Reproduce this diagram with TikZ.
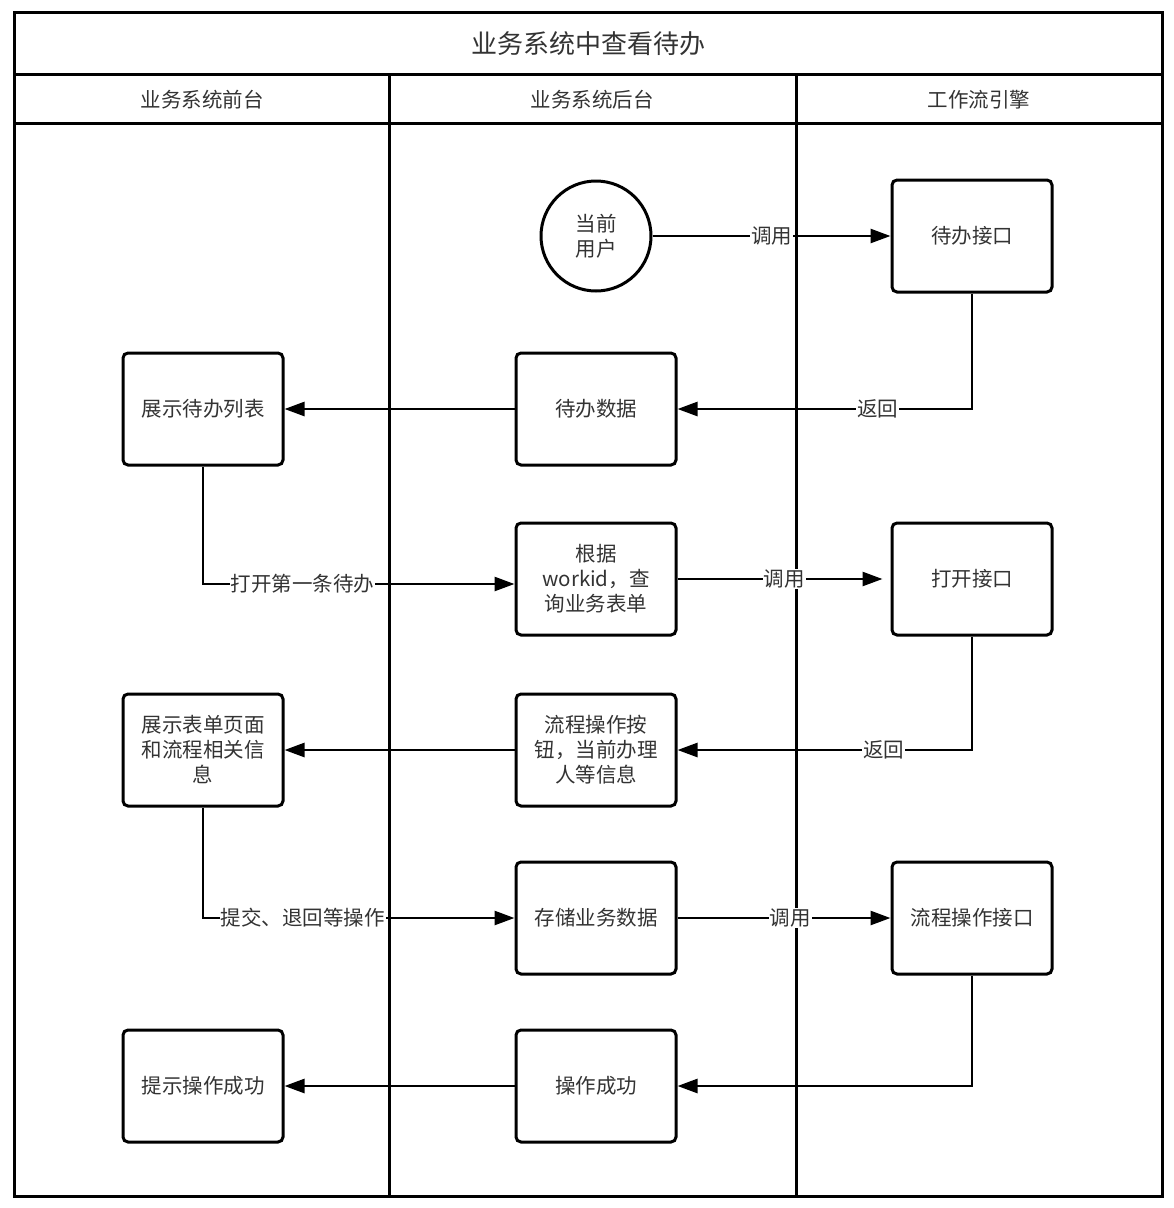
\documentclass[tikz,border=0pt]{standalone}
\usepackage{fontspec}
\setmainfont{Noto Sans CJK SC}
\usetikzlibrary{arrows.meta}
\definecolor{inkgray}{RGB}{51,51,51}

\begin{document}
\begin{tikzpicture}[x=1pt,y=-1pt,
  lane/.style={line width=3pt},
  task/.style={draw,line width=3pt,rounded corners=5pt,minimum width=160pt,
    minimum height=112pt,align=center,text=inkgray,
    font=\fontsize{20.5}{25}\selectfont},
  user/.style={draw,circle,line width=3pt,minimum size=110pt,align=center,
    text=inkgray,font=\fontsize{20.5}{25}\selectfont},
  flow/.style={line width=2.6pt,-{Triangle[length=20pt,width=14pt]}},
  tag/.style={fill=white,inner sep=1pt,text=inkgray,
    font=\fontsize{20.5}{25}\selectfont}]

\newcommand\xFront{203}
\newcommand\xBack{596}
\newcommand\xFlow{972}

\useasboundingbox (0,0) rectangle (1174,1208); %% margins

%% swim lanes
\draw[lane] (14,12) rectangle (1162,1196);
\draw[lane] (14,74) -- (1162,74);
\draw[lane] (14,123) -- (1162,123);
\draw[lane] (389,74) -- (389,1196);
\draw[lane] (796,74) -- (796,1196);

\node[text=inkgray,font=\fontsize{26}{30}\selectfont] (title) at (588,44) {业务系统中查看待办};
\node[text=inkgray,font=\fontsize{20.5}{25}\selectfont] (hFront) at (202,100) {业务系统前台};
\node[text=inkgray,font=\fontsize{20.5}{25}\selectfont] (hBack) at (592,100) {业务系统后台};
\node[text=inkgray,font=\fontsize{20.5}{25}\selectfont] (hFlow) at (979,100) {工作流引擎};

%% steps
\node[user] (curUser) at (\xBack,236) {当前\\用户};
\node[task] (todoApi) at (\xFlow,236) {待办接口};

\node[task] (todoList) at (\xFront,409) {展示待办列表};
\node[task] (todoData) at (\xBack,409) {待办数据};

\node[task] (queryForm) at (\xBack,579) {根据\\workid，查\\询业务表单};
\node[task] (openApi) at (\xFlow,579) {打开接口};

\node[task] (showForm) at (\xFront,750) {展示表单页面\\和流程相关信\\息};
\node[task] (opButtons) at (\xBack,750) {流程操作按\\钮，当前办理\\人等信息};

\node[task] (saveData) at (\xBack,918) {存储业务数据};
\node[task] (opApi) at (\xFlow,918) {流程操作接口};

\node[task] (showOk) at (\xFront,1086) {提示操作成功};
\node[task] (opOk) at (\xBack,1086) {操作成功};

%% connectors
\draw[flow] (curUser) -- node[tag]{调用} (todoApi);
\draw[flow] (todoApi.south) |- node[tag,pos=0.66]{返回} (todoData.east);
\draw[flow] (todoData) -- (todoList);

\draw[flow] (todoList.south) |- node[tag,pos=0.66]{打开第一条待办} ([yshift=-5pt]queryForm.west);
\draw[flow,shorten >=8pt] (queryForm) -- node[tag]{调用} (openApi);
\draw[flow] (openApi.south) |- node[tag,pos=0.65]{返回} (opButtons.east);
\draw[flow] (opButtons) -- (showForm);

\draw[flow] (showForm.south) |- node[tag,pos=0.66]{提交、退回等操作} (saveData.west);
\draw[flow] (saveData) -- node[tag,pos=0.53]{调用} (opApi);
\draw[flow] (opApi.south) |- (opOk.east);
\draw[flow] (opOk) -- (showOk);

\end{tikzpicture}
\end{document}
